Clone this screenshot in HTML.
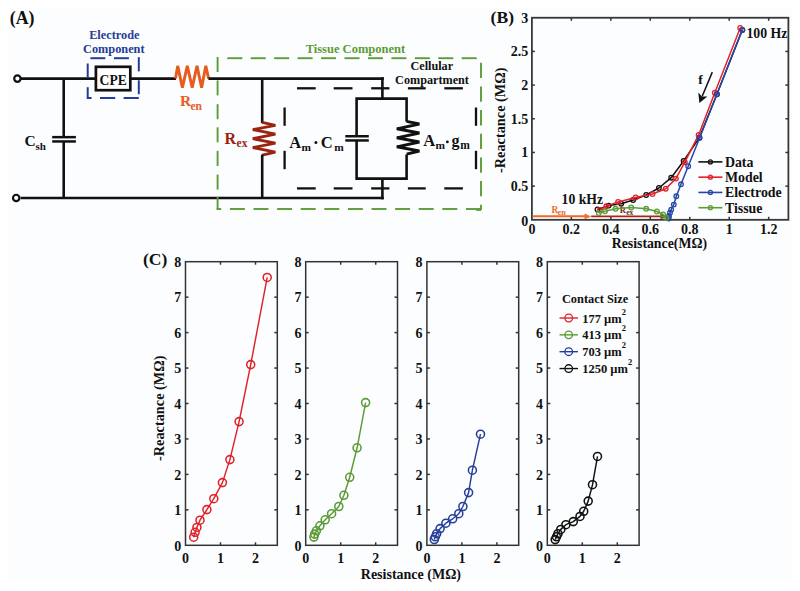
<!DOCTYPE html>
<html><head><meta charset="utf-8"><style>
html,body{margin:0;padding:0;background:#fff;}
svg{display:block;font-family:"Liberation Serif", serif;}
</style></head><body>
<svg width="800" height="591" viewBox="0 0 800 591">
<rect x="8" y="7.5" width="784" height="570.5" fill="#fcfdfe"/>
<rect x="8" y="7.5" width="32" height="24" fill="#fff"/>
<text x="9.80" y="24.00" font-size="17.8" fill="#111" text-anchor="start" font-weight="bold" >(A)</text>
<circle cx="17.40" cy="78.60" r="3.2" stroke="#111" stroke-width="2.2" fill="#fff"/>
<circle cx="16.20" cy="197.95" r="3.2" stroke="#111" stroke-width="2.2" fill="#fff"/>
<line x1="20.60" y1="78.60" x2="95.00" y2="78.60" stroke="#111" stroke-width="2.6" stroke-linecap="butt" />
<line x1="20.60" y1="197.95" x2="383.80" y2="197.95" stroke="#111" stroke-width="2.6" stroke-linecap="butt" />
<line x1="63.70" y1="78.60" x2="63.70" y2="137.20" stroke="#111" stroke-width="2.6" stroke-linecap="butt" />
<line x1="63.70" y1="141.40" x2="63.70" y2="197.95" stroke="#111" stroke-width="2.6" stroke-linecap="butt" />
<line x1="52.20" y1="137.15" x2="75.90" y2="137.15" stroke="#111" stroke-width="2.5" stroke-linecap="butt" />
<line x1="52.20" y1="141.45" x2="75.90" y2="141.45" stroke="#111" stroke-width="2.5" stroke-linecap="butt" />
<text x="24.60" y="145.70" font-size="15.5" fill="#111" text-anchor="start" font-weight="bold" >C</text>
<text x="35.60" y="150.40" font-size="11" fill="#111" text-anchor="start" font-weight="bold" >sh</text>
<rect x="95.9" y="66.8" width="34.4" height="23.4" fill="#fff" stroke="#111" stroke-width="2.7"/>
<text x="113.20" y="85.00" font-size="13.6" fill="#111" text-anchor="middle" font-weight="bold" >CPE</text>
<line x1="130.30" y1="78.60" x2="176.00" y2="78.60" stroke="#111" stroke-width="2.6" stroke-linecap="butt" />
<line x1="90.40" y1="58.20" x2="105.30" y2="58.20" stroke="#273a97" stroke-width="2.0" stroke-linecap="butt" />
<line x1="114.00" y1="58.20" x2="128.90" y2="58.20" stroke="#273a97" stroke-width="2.0" stroke-linecap="butt" />
<line x1="87.40" y1="98.00" x2="91.60" y2="98.00" stroke="#273a97" stroke-width="2.0" stroke-linecap="butt" />
<line x1="100.00" y1="98.00" x2="115.20" y2="98.00" stroke="#273a97" stroke-width="2.0" stroke-linecap="butt" />
<line x1="123.60" y1="98.00" x2="138.80" y2="98.00" stroke="#273a97" stroke-width="2.0" stroke-linecap="butt" />
<line x1="87.70" y1="63.50" x2="87.70" y2="77.90" stroke="#273a97" stroke-width="2.0" stroke-linecap="butt" />
<line x1="87.70" y1="87.20" x2="87.70" y2="99.00" stroke="#273a97" stroke-width="2.0" stroke-linecap="butt" />
<line x1="138.80" y1="57.20" x2="138.80" y2="71.40" stroke="#273a97" stroke-width="2.0" stroke-linecap="butt" />
<line x1="138.80" y1="80.30" x2="138.80" y2="94.20" stroke="#273a97" stroke-width="2.0" stroke-linecap="butt" />
<text x="114.30" y="39.00" font-size="12.3" fill="#273a97" text-anchor="middle" font-weight="bold" >Electrode</text>
<text x="113.80" y="53.00" font-size="12.3" fill="#273a97" text-anchor="middle" font-weight="bold" >Component</text>
<polyline points="175.50,78.60 177.70,65.90 182.40,87.60 187.30,65.90 192.20,87.60 197.00,65.90 201.60,87.60 205.80,65.90 208.60,78.60" fill="none" stroke="#e65c1e" stroke-width="2.9" stroke-linejoin="miter" />
<text x="180.00" y="106.30" font-size="15.5" fill="#e65c1e" text-anchor="start" font-weight="bold" >R</text>
<text x="190.40" y="110.00" font-size="11.6" fill="#e65c1e" text-anchor="start" font-weight="bold" >en</text>
<line x1="208.40" y1="78.60" x2="383.80" y2="78.60" stroke="#111" stroke-width="2.6" stroke-linecap="butt" />
<line x1="227.30" y1="58.20" x2="242.30" y2="58.20" stroke="#5d9b36" stroke-width="1.9" stroke-linecap="butt" />
<line x1="250.74" y1="58.20" x2="265.74" y2="58.20" stroke="#5d9b36" stroke-width="1.9" stroke-linecap="butt" />
<line x1="274.18" y1="58.20" x2="289.18" y2="58.20" stroke="#5d9b36" stroke-width="1.9" stroke-linecap="butt" />
<line x1="297.62" y1="58.20" x2="312.62" y2="58.20" stroke="#5d9b36" stroke-width="1.9" stroke-linecap="butt" />
<line x1="321.06" y1="58.20" x2="336.06" y2="58.20" stroke="#5d9b36" stroke-width="1.9" stroke-linecap="butt" />
<line x1="344.50" y1="58.20" x2="359.50" y2="58.20" stroke="#5d9b36" stroke-width="1.9" stroke-linecap="butt" />
<line x1="367.94" y1="58.20" x2="382.94" y2="58.20" stroke="#5d9b36" stroke-width="1.9" stroke-linecap="butt" />
<line x1="391.38" y1="58.20" x2="406.38" y2="58.20" stroke="#5d9b36" stroke-width="1.9" stroke-linecap="butt" />
<line x1="414.82" y1="58.20" x2="429.82" y2="58.20" stroke="#5d9b36" stroke-width="1.9" stroke-linecap="butt" />
<line x1="438.26" y1="58.20" x2="453.26" y2="58.20" stroke="#5d9b36" stroke-width="1.9" stroke-linecap="butt" />
<line x1="461.70" y1="58.20" x2="476.70" y2="58.20" stroke="#5d9b36" stroke-width="1.9" stroke-linecap="butt" />
<line x1="229.90" y1="209.00" x2="244.90" y2="209.00" stroke="#5d9b36" stroke-width="1.9" stroke-linecap="butt" />
<line x1="253.50" y1="209.00" x2="268.50" y2="209.00" stroke="#5d9b36" stroke-width="1.9" stroke-linecap="butt" />
<line x1="277.10" y1="209.00" x2="292.10" y2="209.00" stroke="#5d9b36" stroke-width="1.9" stroke-linecap="butt" />
<line x1="300.70" y1="209.00" x2="315.70" y2="209.00" stroke="#5d9b36" stroke-width="1.9" stroke-linecap="butt" />
<line x1="324.30" y1="209.00" x2="339.30" y2="209.00" stroke="#5d9b36" stroke-width="1.9" stroke-linecap="butt" />
<line x1="347.90" y1="209.00" x2="362.90" y2="209.00" stroke="#5d9b36" stroke-width="1.9" stroke-linecap="butt" />
<line x1="371.50" y1="209.00" x2="386.50" y2="209.00" stroke="#5d9b36" stroke-width="1.9" stroke-linecap="butt" />
<line x1="395.10" y1="209.00" x2="410.10" y2="209.00" stroke="#5d9b36" stroke-width="1.9" stroke-linecap="butt" />
<line x1="418.70" y1="209.00" x2="433.70" y2="209.00" stroke="#5d9b36" stroke-width="1.9" stroke-linecap="butt" />
<line x1="442.30" y1="209.00" x2="457.30" y2="209.00" stroke="#5d9b36" stroke-width="1.9" stroke-linecap="butt" />
<line x1="465.90" y1="209.00" x2="480.90" y2="209.00" stroke="#5d9b36" stroke-width="1.9" stroke-linecap="butt" />
<line x1="216.65" y1="209.00" x2="221.20" y2="209.00" stroke="#5d9b36" stroke-width="1.9" stroke-linecap="butt" />
<line x1="481.00" y1="209.95" x2="476.20" y2="209.95" stroke="#5d9b36" stroke-width="1.9" stroke-linecap="butt" />
<line x1="217.60" y1="57.00" x2="217.60" y2="72.00" stroke="#5d9b36" stroke-width="1.9" stroke-linecap="butt" />
<line x1="217.60" y1="80.40" x2="217.60" y2="95.40" stroke="#5d9b36" stroke-width="1.9" stroke-linecap="butt" />
<line x1="217.60" y1="104.20" x2="217.60" y2="119.20" stroke="#5d9b36" stroke-width="1.9" stroke-linecap="butt" />
<line x1="217.60" y1="127.30" x2="217.60" y2="142.30" stroke="#5d9b36" stroke-width="1.9" stroke-linecap="butt" />
<line x1="217.60" y1="150.90" x2="217.60" y2="165.90" stroke="#5d9b36" stroke-width="1.9" stroke-linecap="butt" />
<line x1="217.60" y1="174.60" x2="217.60" y2="189.60" stroke="#5d9b36" stroke-width="1.9" stroke-linecap="butt" />
<line x1="217.60" y1="196.90" x2="217.60" y2="209.90" stroke="#5d9b36" stroke-width="1.9" stroke-linecap="butt" />
<line x1="481.00" y1="62.80" x2="481.00" y2="78.10" stroke="#5d9b36" stroke-width="1.9" stroke-linecap="butt" />
<line x1="481.00" y1="86.45" x2="481.00" y2="101.75" stroke="#5d9b36" stroke-width="1.9" stroke-linecap="butt" />
<line x1="481.00" y1="110.10" x2="481.00" y2="125.40" stroke="#5d9b36" stroke-width="1.9" stroke-linecap="butt" />
<line x1="481.00" y1="133.75" x2="481.00" y2="149.05" stroke="#5d9b36" stroke-width="1.9" stroke-linecap="butt" />
<line x1="481.00" y1="157.40" x2="481.00" y2="172.70" stroke="#5d9b36" stroke-width="1.9" stroke-linecap="butt" />
<line x1="481.00" y1="181.05" x2="481.00" y2="196.35" stroke="#5d9b36" stroke-width="1.9" stroke-linecap="butt" />
<line x1="481.00" y1="204.70" x2="481.00" y2="209.90" stroke="#5d9b36" stroke-width="1.9" stroke-linecap="butt" />
<text x="355.40" y="53.40" font-size="12.5" fill="#5d9b36" text-anchor="middle" font-weight="bold" >Tissue Component</text>
<line x1="262.20" y1="78.60" x2="262.20" y2="123.20" stroke="#111" stroke-width="2.6" stroke-linecap="butt" />
<polyline points="262.20,122.40 275.40,125.40 252.80,129.60 275.40,134.10 252.80,138.70 275.40,143.10 252.80,147.60 275.40,152.10 262.20,155.20" fill="none" stroke="#9a2412" stroke-width="2.9" stroke-linejoin="miter" />
<line x1="262.20" y1="154.60" x2="262.20" y2="197.95" stroke="#111" stroke-width="2.6" stroke-linecap="butt" />
<text x="224.40" y="143.50" font-size="16" fill="#9a2412" text-anchor="start" font-weight="bold" >R</text>
<text x="236.60" y="147.20" font-size="11.5" fill="#9a2412" text-anchor="start" font-weight="bold" >ex</text>
<line x1="297.00" y1="88.30" x2="315.70" y2="88.30" stroke="#111" stroke-width="2.3" stroke-linecap="butt" />
<line x1="297.00" y1="188.40" x2="315.70" y2="188.40" stroke="#111" stroke-width="2.3" stroke-linecap="butt" />
<line x1="333.70" y1="88.30" x2="352.50" y2="88.30" stroke="#111" stroke-width="2.3" stroke-linecap="butt" />
<line x1="333.70" y1="188.40" x2="352.50" y2="188.40" stroke="#111" stroke-width="2.3" stroke-linecap="butt" />
<line x1="371.20" y1="88.30" x2="389.40" y2="88.30" stroke="#111" stroke-width="2.3" stroke-linecap="butt" />
<line x1="371.20" y1="188.40" x2="389.40" y2="188.40" stroke="#111" stroke-width="2.3" stroke-linecap="butt" />
<line x1="407.90" y1="88.30" x2="425.70" y2="88.30" stroke="#111" stroke-width="2.3" stroke-linecap="butt" />
<line x1="407.90" y1="188.40" x2="425.70" y2="188.40" stroke="#111" stroke-width="2.3" stroke-linecap="butt" />
<line x1="444.30" y1="88.30" x2="462.90" y2="88.30" stroke="#111" stroke-width="2.3" stroke-linecap="butt" />
<line x1="444.30" y1="188.40" x2="462.90" y2="188.40" stroke="#111" stroke-width="2.3" stroke-linecap="butt" />
<line x1="284.60" y1="107.50" x2="284.60" y2="125.80" stroke="#111" stroke-width="2.3" stroke-linecap="butt" />
<line x1="476.00" y1="107.50" x2="476.00" y2="125.80" stroke="#111" stroke-width="2.3" stroke-linecap="butt" />
<line x1="284.60" y1="150.80" x2="284.60" y2="169.20" stroke="#111" stroke-width="2.3" stroke-linecap="butt" />
<line x1="476.00" y1="150.80" x2="476.00" y2="169.20" stroke="#111" stroke-width="2.3" stroke-linecap="butt" />
<text x="431.80" y="69.60" font-size="12.2" fill="#111" text-anchor="middle" font-weight="bold" >Cellular</text>
<text x="432.00" y="84.00" font-size="12.2" fill="#111" text-anchor="middle" font-weight="bold" >Compartment</text>
<line x1="382.40" y1="77.20" x2="382.40" y2="98.60" stroke="#111" stroke-width="2.6" stroke-linecap="butt" />
<polyline points="356.60,136.30 356.60,98.60 406.60,98.60 406.60,121.80" fill="none" stroke="#111" stroke-width="2.6" stroke-linejoin="miter" />
<polyline points="406.60,154.40 406.60,178.60 356.60,178.60 356.60,140.40" fill="none" stroke="#111" stroke-width="2.6" stroke-linejoin="miter" />
<line x1="382.40" y1="178.60" x2="382.40" y2="199.35" stroke="#111" stroke-width="2.6" stroke-linecap="butt" />
<line x1="345.30" y1="136.25" x2="368.80" y2="136.25" stroke="#111" stroke-width="2.5" stroke-linecap="butt" />
<line x1="345.30" y1="140.45" x2="368.80" y2="140.45" stroke="#111" stroke-width="2.5" stroke-linecap="butt" />
<polyline points="406.60,121.40 419.40,124.00 396.80,128.80 419.40,133.00 396.80,137.80 419.40,142.00 396.80,146.80 419.40,151.00 406.60,154.20" fill="none" stroke="#111" stroke-width="2.9" stroke-linejoin="miter" />
<text x="289.20" y="147.60" font-size="16.6" fill="#111" text-anchor="start" font-weight="bold" >A</text>
<text x="301.40" y="151.00" font-size="11.4" fill="#111" text-anchor="start" font-weight="bold" >m</text>
<circle cx="315.90" cy="142.50" r="0.75" stroke="#111" stroke-width="1.5" fill="#111"/>
<text x="320.80" y="147.60" font-size="16.6" fill="#111" text-anchor="start" font-weight="bold" >C</text>
<text x="334.20" y="151.00" font-size="11.4" fill="#111" text-anchor="start" font-weight="bold" >m</text>
<text x="423.30" y="145.60" font-size="16.6" fill="#111" text-anchor="start" font-weight="bold" >A</text>
<text x="435.60" y="149.00" font-size="11.4" fill="#111" text-anchor="start" font-weight="bold" >m</text>
<circle cx="447.40" cy="141.90" r="0.7" stroke="#111" stroke-width="1.4" fill="#111"/>
<text x="451.40" y="145.60" font-size="16" fill="#111" text-anchor="start" font-weight="bold" >g</text>
<text x="460.20" y="149.00" font-size="11.5" fill="#111" text-anchor="start" font-weight="bold" >m</text>
<text x="490.60" y="22.80" font-size="17.6" fill="#111" text-anchor="start" font-weight="bold" >(B)</text>
<rect x="531.90" y="17.75" width="256.49" height="202.05" fill="none" stroke="#383838" stroke-width="1.8"/>
<text x="531.90" y="234.20" font-size="14" fill="#111" text-anchor="middle" font-weight="bold" >0</text>
<line x1="571.36" y1="219.80" x2="571.36" y2="216.80" stroke="#333" stroke-width="1.5" stroke-linecap="butt" />
<line x1="571.36" y1="17.75" x2="571.36" y2="20.75" stroke="#333" stroke-width="1.5" stroke-linecap="butt" />
<text x="571.36" y="234.20" font-size="14" fill="#111" text-anchor="middle" font-weight="bold" >0.2</text>
<line x1="610.82" y1="219.80" x2="610.82" y2="216.80" stroke="#333" stroke-width="1.5" stroke-linecap="butt" />
<line x1="610.82" y1="17.75" x2="610.82" y2="20.75" stroke="#333" stroke-width="1.5" stroke-linecap="butt" />
<text x="610.82" y="234.20" font-size="14" fill="#111" text-anchor="middle" font-weight="bold" >0.4</text>
<line x1="650.28" y1="219.80" x2="650.28" y2="216.80" stroke="#333" stroke-width="1.5" stroke-linecap="butt" />
<line x1="650.28" y1="17.75" x2="650.28" y2="20.75" stroke="#333" stroke-width="1.5" stroke-linecap="butt" />
<text x="650.28" y="234.20" font-size="14" fill="#111" text-anchor="middle" font-weight="bold" >0.6</text>
<line x1="689.74" y1="219.80" x2="689.74" y2="216.80" stroke="#333" stroke-width="1.5" stroke-linecap="butt" />
<line x1="689.74" y1="17.75" x2="689.74" y2="20.75" stroke="#333" stroke-width="1.5" stroke-linecap="butt" />
<text x="689.74" y="234.20" font-size="14" fill="#111" text-anchor="middle" font-weight="bold" >0.8</text>
<line x1="729.20" y1="219.80" x2="729.20" y2="216.80" stroke="#333" stroke-width="1.5" stroke-linecap="butt" />
<line x1="729.20" y1="17.75" x2="729.20" y2="20.75" stroke="#333" stroke-width="1.5" stroke-linecap="butt" />
<text x="729.20" y="234.20" font-size="14" fill="#111" text-anchor="middle" font-weight="bold" >1</text>
<line x1="768.66" y1="219.80" x2="768.66" y2="216.80" stroke="#333" stroke-width="1.5" stroke-linecap="butt" />
<line x1="768.66" y1="17.75" x2="768.66" y2="20.75" stroke="#333" stroke-width="1.5" stroke-linecap="butt" />
<text x="768.66" y="234.20" font-size="14" fill="#111" text-anchor="middle" font-weight="bold" >1.2</text>
<text x="528.30" y="225.80" font-size="14" fill="#111" text-anchor="end" font-weight="bold" >0</text>
<line x1="531.90" y1="186.12" x2="534.90" y2="186.12" stroke="#333" stroke-width="1.5" stroke-linecap="butt" />
<line x1="788.39" y1="186.12" x2="785.39" y2="186.12" stroke="#333" stroke-width="1.5" stroke-linecap="butt" />
<text x="528.30" y="190.93" font-size="14" fill="#111" text-anchor="end" font-weight="bold" >0.5</text>
<line x1="531.90" y1="152.45" x2="534.90" y2="152.45" stroke="#333" stroke-width="1.5" stroke-linecap="butt" />
<line x1="788.39" y1="152.45" x2="785.39" y2="152.45" stroke="#333" stroke-width="1.5" stroke-linecap="butt" />
<text x="528.30" y="157.25" font-size="14" fill="#111" text-anchor="end" font-weight="bold" >1</text>
<line x1="531.90" y1="118.78" x2="534.90" y2="118.78" stroke="#333" stroke-width="1.5" stroke-linecap="butt" />
<line x1="788.39" y1="118.78" x2="785.39" y2="118.78" stroke="#333" stroke-width="1.5" stroke-linecap="butt" />
<text x="528.30" y="123.58" font-size="14" fill="#111" text-anchor="end" font-weight="bold" >1.5</text>
<line x1="531.90" y1="85.10" x2="534.90" y2="85.10" stroke="#333" stroke-width="1.5" stroke-linecap="butt" />
<line x1="788.39" y1="85.10" x2="785.39" y2="85.10" stroke="#333" stroke-width="1.5" stroke-linecap="butt" />
<text x="528.30" y="89.90" font-size="14" fill="#111" text-anchor="end" font-weight="bold" >2</text>
<line x1="531.90" y1="51.43" x2="534.90" y2="51.43" stroke="#333" stroke-width="1.5" stroke-linecap="butt" />
<line x1="788.39" y1="51.43" x2="785.39" y2="51.43" stroke="#333" stroke-width="1.5" stroke-linecap="butt" />
<text x="528.30" y="56.23" font-size="14" fill="#111" text-anchor="end" font-weight="bold" >2.5</text>
<text x="528.30" y="22.55" font-size="14" fill="#111" text-anchor="end" font-weight="bold" >3</text>
<text x="659.40" y="247.60" font-size="13.8" fill="#111" text-anchor="middle" font-weight="bold" >Resistance(MΩ)</text>
<text x="505.40" y="120.20" font-size="14.3" fill="#111" text-anchor="middle" font-weight="bold" transform="rotate(-90 505.4 120.2)">-Reactance (MΩ)</text>
<line x1="532.50" y1="216.30" x2="586.50" y2="216.30" stroke="#ee6a2a" stroke-width="1.9" stroke-linecap="butt" />
<path d="M584.5,213.6 L591.2,216.4 L584.5,219.2 Z" fill="#ec6f2a"/>
<text x="551.40" y="212.60" font-size="9.4" fill="#ee6a2a" text-anchor="start" font-weight="bold" >R</text>
<text x="557.60" y="214.60" font-size="8.2" fill="#ee6a2a" text-anchor="start" font-weight="bold" >en</text>
<line x1="591.20" y1="216.40" x2="662.50" y2="216.40" stroke="#a82a16" stroke-width="1.7" stroke-linecap="butt" />
<path d="M660.5,213.6 L667.2,216.4 L660.5,219.2 Z" fill="#a3271a"/>
<text x="619.80" y="212.80" font-size="8.6" fill="#7a2418" text-anchor="start" font-weight="bold" >R</text>
<text x="626.20" y="215.40" font-size="7.6" fill="#7a2418" text-anchor="start" font-weight="bold" >ex</text>
<polyline points="597.50,209.40 608.70,205.60 621.20,203.70 633.10,200.00 646.20,195.00 658.90,188.00 671.20,177.70 683.60,161.00 699.40,137.60 716.90,94.30 742.30,29.90" fill="none" stroke="#111" stroke-width="1.5" stroke-linejoin="round" />
<circle cx="597.50" cy="209.40" r="2.3" stroke="#111" stroke-width="1.3" fill="none"/>
<circle cx="608.70" cy="205.60" r="2.3" stroke="#111" stroke-width="1.3" fill="none"/>
<circle cx="621.20" cy="203.70" r="2.3" stroke="#111" stroke-width="1.3" fill="none"/>
<circle cx="633.10" cy="200.00" r="2.3" stroke="#111" stroke-width="1.3" fill="none"/>
<circle cx="646.20" cy="195.00" r="2.3" stroke="#111" stroke-width="1.3" fill="none"/>
<circle cx="658.90" cy="188.00" r="2.3" stroke="#111" stroke-width="1.3" fill="none"/>
<circle cx="671.20" cy="177.70" r="2.3" stroke="#111" stroke-width="1.3" fill="none"/>
<circle cx="683.60" cy="161.00" r="2.3" stroke="#111" stroke-width="1.3" fill="none"/>
<circle cx="699.40" cy="137.60" r="2.3" stroke="#111" stroke-width="1.3" fill="none"/>
<circle cx="716.90" cy="94.30" r="2.3" stroke="#111" stroke-width="1.3" fill="none"/>
<circle cx="742.30" cy="29.90" r="2.3" stroke="#111" stroke-width="1.3" fill="none"/>
<polyline points="600.00,210.00 606.30,206.30 618.10,201.90 635.60,197.50 652.50,194.00 665.70,188.70 675.90,178.60 684.80,162.20 698.60,134.90 714.80,92.70 740.20,27.90" fill="none" stroke="#e3222b" stroke-width="1.5" stroke-linejoin="round" />
<circle cx="600.00" cy="210.00" r="2.3" stroke="#e3222b" stroke-width="1.3" fill="none"/>
<circle cx="606.30" cy="206.30" r="2.3" stroke="#e3222b" stroke-width="1.3" fill="none"/>
<circle cx="618.10" cy="201.90" r="2.3" stroke="#e3222b" stroke-width="1.3" fill="none"/>
<circle cx="635.60" cy="197.50" r="2.3" stroke="#e3222b" stroke-width="1.3" fill="none"/>
<circle cx="652.50" cy="194.00" r="2.3" stroke="#e3222b" stroke-width="1.3" fill="none"/>
<circle cx="665.70" cy="188.70" r="2.3" stroke="#e3222b" stroke-width="1.3" fill="none"/>
<circle cx="675.90" cy="178.60" r="2.3" stroke="#e3222b" stroke-width="1.3" fill="none"/>
<circle cx="684.80" cy="162.20" r="2.3" stroke="#e3222b" stroke-width="1.3" fill="none"/>
<circle cx="698.60" cy="134.90" r="2.3" stroke="#e3222b" stroke-width="1.3" fill="none"/>
<circle cx="714.80" cy="92.70" r="2.3" stroke="#e3222b" stroke-width="1.3" fill="none"/>
<circle cx="740.20" cy="27.90" r="2.3" stroke="#e3222b" stroke-width="1.3" fill="none"/>
<polyline points="668.70,218.50 669.00,216.00 670.00,212.80 671.20,209.60 673.80,204.60 676.30,196.30 681.00,184.30 688.20,166.20 699.60,138.00 716.90,94.30 742.30,29.90" fill="none" stroke="#2747a8" stroke-width="1.5" stroke-linejoin="round" />
<circle cx="668.70" cy="218.50" r="2.3" stroke="#2747a8" stroke-width="1.3" fill="none"/>
<circle cx="669.00" cy="216.00" r="2.3" stroke="#2747a8" stroke-width="1.3" fill="none"/>
<circle cx="670.00" cy="212.80" r="2.3" stroke="#2747a8" stroke-width="1.3" fill="none"/>
<circle cx="671.20" cy="209.60" r="2.3" stroke="#2747a8" stroke-width="1.3" fill="none"/>
<circle cx="673.80" cy="204.60" r="2.3" stroke="#2747a8" stroke-width="1.3" fill="none"/>
<circle cx="676.30" cy="196.30" r="2.3" stroke="#2747a8" stroke-width="1.3" fill="none"/>
<circle cx="681.00" cy="184.30" r="2.3" stroke="#2747a8" stroke-width="1.3" fill="none"/>
<circle cx="688.20" cy="166.20" r="2.3" stroke="#2747a8" stroke-width="1.3" fill="none"/>
<circle cx="699.60" cy="138.00" r="2.3" stroke="#2747a8" stroke-width="1.3" fill="none"/>
<circle cx="716.90" cy="94.30" r="2.3" stroke="#2747a8" stroke-width="1.3" fill="none"/>
<circle cx="742.30" cy="29.90" r="2.3" stroke="#2747a8" stroke-width="1.3" fill="none"/>
<polyline points="598.80,213.10 605.00,211.30 615.60,208.80 631.20,207.50 646.20,208.80 656.90,211.50 663.10,214.40 666.30,218.10" fill="none" stroke="#5a9e33" stroke-width="1.5" stroke-linejoin="round" />
<circle cx="598.80" cy="213.10" r="2.3" stroke="#5a9e33" stroke-width="1.3" fill="none"/>
<circle cx="605.00" cy="211.30" r="2.3" stroke="#5a9e33" stroke-width="1.3" fill="none"/>
<circle cx="615.60" cy="208.80" r="2.3" stroke="#5a9e33" stroke-width="1.3" fill="none"/>
<circle cx="631.20" cy="207.50" r="2.3" stroke="#5a9e33" stroke-width="1.3" fill="none"/>
<circle cx="646.20" cy="208.80" r="2.3" stroke="#5a9e33" stroke-width="1.3" fill="none"/>
<circle cx="656.90" cy="211.50" r="2.3" stroke="#5a9e33" stroke-width="1.3" fill="none"/>
<circle cx="663.10" cy="214.40" r="2.3" stroke="#5a9e33" stroke-width="1.3" fill="none"/>
<circle cx="666.30" cy="218.10" r="2.3" stroke="#5a9e33" stroke-width="1.3" fill="none"/>
<text x="746.40" y="37.50" font-size="13.8" fill="#111" text-anchor="start" font-weight="bold" >100 Hz</text>
<text x="561.60" y="203.50" font-size="13.7" fill="#111" text-anchor="start" font-weight="bold" >10 kHz</text>
<text x="698.30" y="84.00" font-size="13.4" fill="#111" text-anchor="start" font-weight="bold" >f</text>
<line x1="712.30" y1="72.10" x2="702.20" y2="96.20" stroke="#111" stroke-width="1.5" stroke-linecap="butt" />
<path d="M699.4,103.0 L698.3,92.6 L701.9,96.6 L707.4,96.4 Z" fill="#111"/>
<line x1="698.40" y1="161.90" x2="722.40" y2="161.90" stroke="#111" stroke-width="1.6" stroke-linecap="butt" />
<circle cx="710.40" cy="161.90" r="2.0" stroke="#111" stroke-width="1.3" fill="none"/>
<text x="724.90" y="166.80" font-size="13.9" fill="#111" text-anchor="start" font-weight="bold" >Data</text>
<line x1="698.40" y1="177.17" x2="722.40" y2="177.17" stroke="#e3222b" stroke-width="1.6" stroke-linecap="butt" />
<circle cx="710.40" cy="177.17" r="2.0" stroke="#e3222b" stroke-width="1.3" fill="none"/>
<text x="724.90" y="182.07" font-size="13.9" fill="#111" text-anchor="start" font-weight="bold" >Model</text>
<line x1="698.40" y1="192.44" x2="722.40" y2="192.44" stroke="#2747a8" stroke-width="1.6" stroke-linecap="butt" />
<circle cx="710.40" cy="192.44" r="2.0" stroke="#2747a8" stroke-width="1.3" fill="none"/>
<text x="724.90" y="197.34" font-size="13.9" fill="#111" text-anchor="start" font-weight="bold" >Electrode</text>
<line x1="698.40" y1="207.71" x2="722.40" y2="207.71" stroke="#5a9e33" stroke-width="1.6" stroke-linecap="butt" />
<circle cx="710.40" cy="207.71" r="2.0" stroke="#5a9e33" stroke-width="1.3" fill="none"/>
<text x="724.90" y="212.61" font-size="13.9" fill="#111" text-anchor="start" font-weight="bold" >Tissue</text>
<text x="142.90" y="265.20" font-size="17.6" fill="#111" text-anchor="start" font-weight="bold" >(C)</text>
<rect x="185.50" y="261.70" width="91.8" height="283.60" fill="none" stroke="#333" stroke-width="1.5"/>
<text x="181.20" y="550.60" font-size="14" fill="#111" text-anchor="end" font-weight="bold" >0</text>
<line x1="185.50" y1="509.85" x2="188.50" y2="509.85" stroke="#333" stroke-width="1.5" stroke-linecap="butt" />
<line x1="277.30" y1="509.85" x2="274.30" y2="509.85" stroke="#333" stroke-width="1.5" stroke-linecap="butt" />
<text x="181.20" y="515.15" font-size="14" fill="#111" text-anchor="end" font-weight="bold" >1</text>
<line x1="185.50" y1="474.40" x2="188.50" y2="474.40" stroke="#333" stroke-width="1.5" stroke-linecap="butt" />
<line x1="277.30" y1="474.40" x2="274.30" y2="474.40" stroke="#333" stroke-width="1.5" stroke-linecap="butt" />
<text x="181.20" y="479.70" font-size="14" fill="#111" text-anchor="end" font-weight="bold" >2</text>
<line x1="185.50" y1="438.95" x2="188.50" y2="438.95" stroke="#333" stroke-width="1.5" stroke-linecap="butt" />
<line x1="277.30" y1="438.95" x2="274.30" y2="438.95" stroke="#333" stroke-width="1.5" stroke-linecap="butt" />
<text x="181.20" y="444.25" font-size="14" fill="#111" text-anchor="end" font-weight="bold" >3</text>
<line x1="185.50" y1="403.50" x2="188.50" y2="403.50" stroke="#333" stroke-width="1.5" stroke-linecap="butt" />
<line x1="277.30" y1="403.50" x2="274.30" y2="403.50" stroke="#333" stroke-width="1.5" stroke-linecap="butt" />
<text x="181.20" y="408.80" font-size="14" fill="#111" text-anchor="end" font-weight="bold" >4</text>
<line x1="185.50" y1="368.05" x2="188.50" y2="368.05" stroke="#333" stroke-width="1.5" stroke-linecap="butt" />
<line x1="277.30" y1="368.05" x2="274.30" y2="368.05" stroke="#333" stroke-width="1.5" stroke-linecap="butt" />
<text x="181.20" y="373.35" font-size="14" fill="#111" text-anchor="end" font-weight="bold" >5</text>
<line x1="185.50" y1="332.60" x2="188.50" y2="332.60" stroke="#333" stroke-width="1.5" stroke-linecap="butt" />
<line x1="277.30" y1="332.60" x2="274.30" y2="332.60" stroke="#333" stroke-width="1.5" stroke-linecap="butt" />
<text x="181.20" y="337.90" font-size="14" fill="#111" text-anchor="end" font-weight="bold" >6</text>
<line x1="185.50" y1="297.15" x2="188.50" y2="297.15" stroke="#333" stroke-width="1.5" stroke-linecap="butt" />
<line x1="277.30" y1="297.15" x2="274.30" y2="297.15" stroke="#333" stroke-width="1.5" stroke-linecap="butt" />
<text x="181.20" y="302.45" font-size="14" fill="#111" text-anchor="end" font-weight="bold" >7</text>
<text x="181.20" y="267.00" font-size="14" fill="#111" text-anchor="end" font-weight="bold" >8</text>
<text x="185.50" y="563.00" font-size="14" fill="#111" text-anchor="middle" font-weight="bold" >0</text>
<line x1="220.50" y1="545.30" x2="220.50" y2="542.30" stroke="#333" stroke-width="1.5" stroke-linecap="butt" />
<line x1="220.50" y1="261.70" x2="220.50" y2="264.70" stroke="#333" stroke-width="1.5" stroke-linecap="butt" />
<text x="220.50" y="563.00" font-size="14" fill="#111" text-anchor="middle" font-weight="bold" >1</text>
<line x1="255.50" y1="545.30" x2="255.50" y2="542.30" stroke="#333" stroke-width="1.5" stroke-linecap="butt" />
<line x1="255.50" y1="261.70" x2="255.50" y2="264.70" stroke="#333" stroke-width="1.5" stroke-linecap="butt" />
<text x="255.50" y="563.00" font-size="14" fill="#111" text-anchor="middle" font-weight="bold" >2</text>
<rect x="305.70" y="261.70" width="91.8" height="283.60" fill="none" stroke="#333" stroke-width="1.5"/>
<text x="301.40" y="550.60" font-size="14" fill="#111" text-anchor="end" font-weight="bold" >0</text>
<line x1="305.70" y1="509.85" x2="308.70" y2="509.85" stroke="#333" stroke-width="1.5" stroke-linecap="butt" />
<line x1="397.50" y1="509.85" x2="394.50" y2="509.85" stroke="#333" stroke-width="1.5" stroke-linecap="butt" />
<text x="301.40" y="515.15" font-size="14" fill="#111" text-anchor="end" font-weight="bold" >1</text>
<line x1="305.70" y1="474.40" x2="308.70" y2="474.40" stroke="#333" stroke-width="1.5" stroke-linecap="butt" />
<line x1="397.50" y1="474.40" x2="394.50" y2="474.40" stroke="#333" stroke-width="1.5" stroke-linecap="butt" />
<text x="301.40" y="479.70" font-size="14" fill="#111" text-anchor="end" font-weight="bold" >2</text>
<line x1="305.70" y1="438.95" x2="308.70" y2="438.95" stroke="#333" stroke-width="1.5" stroke-linecap="butt" />
<line x1="397.50" y1="438.95" x2="394.50" y2="438.95" stroke="#333" stroke-width="1.5" stroke-linecap="butt" />
<text x="301.40" y="444.25" font-size="14" fill="#111" text-anchor="end" font-weight="bold" >3</text>
<line x1="305.70" y1="403.50" x2="308.70" y2="403.50" stroke="#333" stroke-width="1.5" stroke-linecap="butt" />
<line x1="397.50" y1="403.50" x2="394.50" y2="403.50" stroke="#333" stroke-width="1.5" stroke-linecap="butt" />
<text x="301.40" y="408.80" font-size="14" fill="#111" text-anchor="end" font-weight="bold" >4</text>
<line x1="305.70" y1="368.05" x2="308.70" y2="368.05" stroke="#333" stroke-width="1.5" stroke-linecap="butt" />
<line x1="397.50" y1="368.05" x2="394.50" y2="368.05" stroke="#333" stroke-width="1.5" stroke-linecap="butt" />
<text x="301.40" y="373.35" font-size="14" fill="#111" text-anchor="end" font-weight="bold" >5</text>
<line x1="305.70" y1="332.60" x2="308.70" y2="332.60" stroke="#333" stroke-width="1.5" stroke-linecap="butt" />
<line x1="397.50" y1="332.60" x2="394.50" y2="332.60" stroke="#333" stroke-width="1.5" stroke-linecap="butt" />
<text x="301.40" y="337.90" font-size="14" fill="#111" text-anchor="end" font-weight="bold" >6</text>
<line x1="305.70" y1="297.15" x2="308.70" y2="297.15" stroke="#333" stroke-width="1.5" stroke-linecap="butt" />
<line x1="397.50" y1="297.15" x2="394.50" y2="297.15" stroke="#333" stroke-width="1.5" stroke-linecap="butt" />
<text x="301.40" y="302.45" font-size="14" fill="#111" text-anchor="end" font-weight="bold" >7</text>
<text x="301.40" y="267.00" font-size="14" fill="#111" text-anchor="end" font-weight="bold" >8</text>
<text x="305.70" y="563.00" font-size="14" fill="#111" text-anchor="middle" font-weight="bold" >0</text>
<line x1="340.70" y1="545.30" x2="340.70" y2="542.30" stroke="#333" stroke-width="1.5" stroke-linecap="butt" />
<line x1="340.70" y1="261.70" x2="340.70" y2="264.70" stroke="#333" stroke-width="1.5" stroke-linecap="butt" />
<text x="340.70" y="563.00" font-size="14" fill="#111" text-anchor="middle" font-weight="bold" >1</text>
<line x1="375.70" y1="545.30" x2="375.70" y2="542.30" stroke="#333" stroke-width="1.5" stroke-linecap="butt" />
<line x1="375.70" y1="261.70" x2="375.70" y2="264.70" stroke="#333" stroke-width="1.5" stroke-linecap="butt" />
<text x="375.70" y="563.00" font-size="14" fill="#111" text-anchor="middle" font-weight="bold" >2</text>
<rect x="426.90" y="261.70" width="91.8" height="283.60" fill="none" stroke="#333" stroke-width="1.5"/>
<text x="422.60" y="550.60" font-size="14" fill="#111" text-anchor="end" font-weight="bold" >0</text>
<line x1="426.90" y1="509.85" x2="429.90" y2="509.85" stroke="#333" stroke-width="1.5" stroke-linecap="butt" />
<line x1="518.70" y1="509.85" x2="515.70" y2="509.85" stroke="#333" stroke-width="1.5" stroke-linecap="butt" />
<text x="422.60" y="515.15" font-size="14" fill="#111" text-anchor="end" font-weight="bold" >1</text>
<line x1="426.90" y1="474.40" x2="429.90" y2="474.40" stroke="#333" stroke-width="1.5" stroke-linecap="butt" />
<line x1="518.70" y1="474.40" x2="515.70" y2="474.40" stroke="#333" stroke-width="1.5" stroke-linecap="butt" />
<text x="422.60" y="479.70" font-size="14" fill="#111" text-anchor="end" font-weight="bold" >2</text>
<line x1="426.90" y1="438.95" x2="429.90" y2="438.95" stroke="#333" stroke-width="1.5" stroke-linecap="butt" />
<line x1="518.70" y1="438.95" x2="515.70" y2="438.95" stroke="#333" stroke-width="1.5" stroke-linecap="butt" />
<text x="422.60" y="444.25" font-size="14" fill="#111" text-anchor="end" font-weight="bold" >3</text>
<line x1="426.90" y1="403.50" x2="429.90" y2="403.50" stroke="#333" stroke-width="1.5" stroke-linecap="butt" />
<line x1="518.70" y1="403.50" x2="515.70" y2="403.50" stroke="#333" stroke-width="1.5" stroke-linecap="butt" />
<text x="422.60" y="408.80" font-size="14" fill="#111" text-anchor="end" font-weight="bold" >4</text>
<line x1="426.90" y1="368.05" x2="429.90" y2="368.05" stroke="#333" stroke-width="1.5" stroke-linecap="butt" />
<line x1="518.70" y1="368.05" x2="515.70" y2="368.05" stroke="#333" stroke-width="1.5" stroke-linecap="butt" />
<text x="422.60" y="373.35" font-size="14" fill="#111" text-anchor="end" font-weight="bold" >5</text>
<line x1="426.90" y1="332.60" x2="429.90" y2="332.60" stroke="#333" stroke-width="1.5" stroke-linecap="butt" />
<line x1="518.70" y1="332.60" x2="515.70" y2="332.60" stroke="#333" stroke-width="1.5" stroke-linecap="butt" />
<text x="422.60" y="337.90" font-size="14" fill="#111" text-anchor="end" font-weight="bold" >6</text>
<line x1="426.90" y1="297.15" x2="429.90" y2="297.15" stroke="#333" stroke-width="1.5" stroke-linecap="butt" />
<line x1="518.70" y1="297.15" x2="515.70" y2="297.15" stroke="#333" stroke-width="1.5" stroke-linecap="butt" />
<text x="422.60" y="302.45" font-size="14" fill="#111" text-anchor="end" font-weight="bold" >7</text>
<text x="422.60" y="267.00" font-size="14" fill="#111" text-anchor="end" font-weight="bold" >8</text>
<text x="426.90" y="563.00" font-size="14" fill="#111" text-anchor="middle" font-weight="bold" >0</text>
<line x1="461.90" y1="545.30" x2="461.90" y2="542.30" stroke="#333" stroke-width="1.5" stroke-linecap="butt" />
<line x1="461.90" y1="261.70" x2="461.90" y2="264.70" stroke="#333" stroke-width="1.5" stroke-linecap="butt" />
<text x="461.90" y="563.00" font-size="14" fill="#111" text-anchor="middle" font-weight="bold" >1</text>
<line x1="496.90" y1="545.30" x2="496.90" y2="542.30" stroke="#333" stroke-width="1.5" stroke-linecap="butt" />
<line x1="496.90" y1="261.70" x2="496.90" y2="264.70" stroke="#333" stroke-width="1.5" stroke-linecap="butt" />
<text x="496.90" y="563.00" font-size="14" fill="#111" text-anchor="middle" font-weight="bold" >2</text>
<rect x="547.30" y="261.70" width="91.8" height="283.60" fill="none" stroke="#333" stroke-width="1.5"/>
<text x="543.00" y="550.60" font-size="14" fill="#111" text-anchor="end" font-weight="bold" >0</text>
<line x1="547.30" y1="509.85" x2="550.30" y2="509.85" stroke="#333" stroke-width="1.5" stroke-linecap="butt" />
<line x1="639.10" y1="509.85" x2="636.10" y2="509.85" stroke="#333" stroke-width="1.5" stroke-linecap="butt" />
<text x="543.00" y="515.15" font-size="14" fill="#111" text-anchor="end" font-weight="bold" >1</text>
<line x1="547.30" y1="474.40" x2="550.30" y2="474.40" stroke="#333" stroke-width="1.5" stroke-linecap="butt" />
<line x1="639.10" y1="474.40" x2="636.10" y2="474.40" stroke="#333" stroke-width="1.5" stroke-linecap="butt" />
<text x="543.00" y="479.70" font-size="14" fill="#111" text-anchor="end" font-weight="bold" >2</text>
<line x1="547.30" y1="438.95" x2="550.30" y2="438.95" stroke="#333" stroke-width="1.5" stroke-linecap="butt" />
<line x1="639.10" y1="438.95" x2="636.10" y2="438.95" stroke="#333" stroke-width="1.5" stroke-linecap="butt" />
<text x="543.00" y="444.25" font-size="14" fill="#111" text-anchor="end" font-weight="bold" >3</text>
<line x1="547.30" y1="403.50" x2="550.30" y2="403.50" stroke="#333" stroke-width="1.5" stroke-linecap="butt" />
<line x1="639.10" y1="403.50" x2="636.10" y2="403.50" stroke="#333" stroke-width="1.5" stroke-linecap="butt" />
<text x="543.00" y="408.80" font-size="14" fill="#111" text-anchor="end" font-weight="bold" >4</text>
<line x1="547.30" y1="368.05" x2="550.30" y2="368.05" stroke="#333" stroke-width="1.5" stroke-linecap="butt" />
<line x1="639.10" y1="368.05" x2="636.10" y2="368.05" stroke="#333" stroke-width="1.5" stroke-linecap="butt" />
<text x="543.00" y="373.35" font-size="14" fill="#111" text-anchor="end" font-weight="bold" >5</text>
<line x1="547.30" y1="332.60" x2="550.30" y2="332.60" stroke="#333" stroke-width="1.5" stroke-linecap="butt" />
<line x1="639.10" y1="332.60" x2="636.10" y2="332.60" stroke="#333" stroke-width="1.5" stroke-linecap="butt" />
<text x="543.00" y="337.90" font-size="14" fill="#111" text-anchor="end" font-weight="bold" >6</text>
<line x1="547.30" y1="297.15" x2="550.30" y2="297.15" stroke="#333" stroke-width="1.5" stroke-linecap="butt" />
<line x1="639.10" y1="297.15" x2="636.10" y2="297.15" stroke="#333" stroke-width="1.5" stroke-linecap="butt" />
<text x="543.00" y="302.45" font-size="14" fill="#111" text-anchor="end" font-weight="bold" >7</text>
<text x="543.00" y="267.00" font-size="14" fill="#111" text-anchor="end" font-weight="bold" >8</text>
<text x="547.30" y="563.00" font-size="14" fill="#111" text-anchor="middle" font-weight="bold" >0</text>
<line x1="582.30" y1="545.30" x2="582.30" y2="542.30" stroke="#333" stroke-width="1.5" stroke-linecap="butt" />
<line x1="582.30" y1="261.70" x2="582.30" y2="264.70" stroke="#333" stroke-width="1.5" stroke-linecap="butt" />
<text x="582.30" y="563.00" font-size="14" fill="#111" text-anchor="middle" font-weight="bold" >1</text>
<line x1="617.30" y1="545.30" x2="617.30" y2="542.30" stroke="#333" stroke-width="1.5" stroke-linecap="butt" />
<line x1="617.30" y1="261.70" x2="617.30" y2="264.70" stroke="#333" stroke-width="1.5" stroke-linecap="butt" />
<text x="617.30" y="563.00" font-size="14" fill="#111" text-anchor="middle" font-weight="bold" >2</text>
<text x="163.80" y="408.20" font-size="14.3" fill="#111" text-anchor="middle" font-weight="bold" transform="rotate(-90 163.8 408.2)">-Reactance (MΩ)</text>
<text x="410.90" y="578.60" font-size="14" fill="#111" text-anchor="middle" font-weight="bold" >Resistance (MΩ)</text>
<polyline points="267.20,277.40 250.70,364.60 239.10,421.60 229.90,459.60 222.40,482.60 213.80,498.70 206.90,509.60 200.00,520.20 196.90,527.40 195.10,532.30 193.70,537.20" fill="none" stroke="#de2228" stroke-width="1.45" stroke-linejoin="round" />
<circle cx="267.20" cy="277.40" r="4.0" stroke="#de2228" stroke-width="1.55" fill="none"/>
<circle cx="250.70" cy="364.60" r="4.0" stroke="#de2228" stroke-width="1.55" fill="none"/>
<circle cx="239.10" cy="421.60" r="4.0" stroke="#de2228" stroke-width="1.55" fill="none"/>
<circle cx="229.90" cy="459.60" r="4.0" stroke="#de2228" stroke-width="1.55" fill="none"/>
<circle cx="222.40" cy="482.60" r="4.0" stroke="#de2228" stroke-width="1.55" fill="none"/>
<circle cx="213.80" cy="498.70" r="4.0" stroke="#de2228" stroke-width="1.55" fill="none"/>
<circle cx="206.90" cy="509.60" r="4.0" stroke="#de2228" stroke-width="1.55" fill="none"/>
<circle cx="200.00" cy="520.20" r="4.0" stroke="#de2228" stroke-width="1.55" fill="none"/>
<circle cx="196.90" cy="527.40" r="4.0" stroke="#de2228" stroke-width="1.55" fill="none"/>
<circle cx="195.10" cy="532.30" r="4.0" stroke="#de2228" stroke-width="1.55" fill="none"/>
<circle cx="193.70" cy="537.20" r="4.0" stroke="#de2228" stroke-width="1.55" fill="none"/>
<polyline points="365.60,402.60 357.10,447.80 349.70,477.30 343.90,495.30 338.80,506.50 331.60,513.70 325.20,519.80 319.90,525.80 316.40,530.80 314.60,534.10 313.90,537.10" fill="none" stroke="#5b9a34" stroke-width="1.45" stroke-linejoin="round" />
<circle cx="365.60" cy="402.60" r="4.0" stroke="#5b9a34" stroke-width="1.55" fill="none"/>
<circle cx="357.10" cy="447.80" r="4.0" stroke="#5b9a34" stroke-width="1.55" fill="none"/>
<circle cx="349.70" cy="477.30" r="4.0" stroke="#5b9a34" stroke-width="1.55" fill="none"/>
<circle cx="343.90" cy="495.30" r="4.0" stroke="#5b9a34" stroke-width="1.55" fill="none"/>
<circle cx="338.80" cy="506.50" r="4.0" stroke="#5b9a34" stroke-width="1.55" fill="none"/>
<circle cx="331.60" cy="513.70" r="4.0" stroke="#5b9a34" stroke-width="1.55" fill="none"/>
<circle cx="325.20" cy="519.80" r="4.0" stroke="#5b9a34" stroke-width="1.55" fill="none"/>
<circle cx="319.90" cy="525.80" r="4.0" stroke="#5b9a34" stroke-width="1.55" fill="none"/>
<circle cx="316.40" cy="530.80" r="4.0" stroke="#5b9a34" stroke-width="1.55" fill="none"/>
<circle cx="314.60" cy="534.10" r="4.0" stroke="#5b9a34" stroke-width="1.55" fill="none"/>
<circle cx="313.90" cy="537.10" r="4.0" stroke="#5b9a34" stroke-width="1.55" fill="none"/>
<polyline points="480.50,434.20 472.40,470.20 468.60,492.60 462.90,506.50 458.80,513.70 452.70,518.80 445.90,523.20 440.10,528.60 436.70,533.70 435.30,536.80 434.30,539.50" fill="none" stroke="#253f98" stroke-width="1.45" stroke-linejoin="round" />
<circle cx="480.50" cy="434.20" r="4.0" stroke="#253f98" stroke-width="1.55" fill="none"/>
<circle cx="472.40" cy="470.20" r="4.0" stroke="#253f98" stroke-width="1.55" fill="none"/>
<circle cx="468.60" cy="492.60" r="4.0" stroke="#253f98" stroke-width="1.55" fill="none"/>
<circle cx="462.90" cy="506.50" r="4.0" stroke="#253f98" stroke-width="1.55" fill="none"/>
<circle cx="458.80" cy="513.70" r="4.0" stroke="#253f98" stroke-width="1.55" fill="none"/>
<circle cx="452.70" cy="518.80" r="4.0" stroke="#253f98" stroke-width="1.55" fill="none"/>
<circle cx="445.90" cy="523.20" r="4.0" stroke="#253f98" stroke-width="1.55" fill="none"/>
<circle cx="440.10" cy="528.60" r="4.0" stroke="#253f98" stroke-width="1.55" fill="none"/>
<circle cx="436.70" cy="533.70" r="4.0" stroke="#253f98" stroke-width="1.55" fill="none"/>
<circle cx="435.30" cy="536.80" r="4.0" stroke="#253f98" stroke-width="1.55" fill="none"/>
<circle cx="434.30" cy="539.50" r="4.0" stroke="#253f98" stroke-width="1.55" fill="none"/>
<polyline points="597.50,456.40 592.50,484.70 588.20,501.10 583.70,511.30 580.00,516.40 573.30,521.60 565.90,524.70 560.80,529.40 558.00,533.70 556.50,536.80 555.20,539.60" fill="none" stroke="#111" stroke-width="1.45" stroke-linejoin="round" />
<circle cx="597.50" cy="456.40" r="4.0" stroke="#111" stroke-width="1.55" fill="none"/>
<circle cx="592.50" cy="484.70" r="4.0" stroke="#111" stroke-width="1.55" fill="none"/>
<circle cx="588.20" cy="501.10" r="4.0" stroke="#111" stroke-width="1.55" fill="none"/>
<circle cx="583.70" cy="511.30" r="4.0" stroke="#111" stroke-width="1.55" fill="none"/>
<circle cx="580.00" cy="516.40" r="4.0" stroke="#111" stroke-width="1.55" fill="none"/>
<circle cx="573.30" cy="521.60" r="4.0" stroke="#111" stroke-width="1.55" fill="none"/>
<circle cx="565.90" cy="524.70" r="4.0" stroke="#111" stroke-width="1.55" fill="none"/>
<circle cx="560.80" cy="529.40" r="4.0" stroke="#111" stroke-width="1.55" fill="none"/>
<circle cx="558.00" cy="533.70" r="4.0" stroke="#111" stroke-width="1.55" fill="none"/>
<circle cx="556.50" cy="536.80" r="4.0" stroke="#111" stroke-width="1.55" fill="none"/>
<circle cx="555.20" cy="539.60" r="4.0" stroke="#111" stroke-width="1.55" fill="none"/>
<text x="595.10" y="303.30" font-size="12.4" fill="#111" text-anchor="middle" font-weight="bold" >Contact Size</text>
<line x1="559.50" y1="318.00" x2="578.00" y2="318.00" stroke="#de2228" stroke-width="1.4" stroke-linecap="butt" />
<circle cx="568.70" cy="318.00" r="3.8" stroke="#de2228" stroke-width="1.3" fill="none"/>
<text x="582.2" y="322.60" font-size="12.5" font-weight="bold" fill="#111">177 µm<tspan font-size="8.5" dy="-8">2</tspan></text>
<line x1="559.50" y1="334.85" x2="578.00" y2="334.85" stroke="#5b9a34" stroke-width="1.4" stroke-linecap="butt" />
<circle cx="568.70" cy="334.85" r="3.8" stroke="#5b9a34" stroke-width="1.3" fill="none"/>
<text x="582.2" y="339.45" font-size="12.5" font-weight="bold" fill="#111">413 µm<tspan font-size="8.5" dy="-8">2</tspan></text>
<line x1="559.50" y1="351.70" x2="578.00" y2="351.70" stroke="#253f98" stroke-width="1.4" stroke-linecap="butt" />
<circle cx="568.70" cy="351.70" r="3.8" stroke="#253f98" stroke-width="1.3" fill="none"/>
<text x="582.2" y="356.30" font-size="12.5" font-weight="bold" fill="#111">703 µm<tspan font-size="8.5" dy="-8">2</tspan></text>
<line x1="559.50" y1="368.55" x2="578.00" y2="368.55" stroke="#111" stroke-width="1.4" stroke-linecap="butt" />
<circle cx="568.70" cy="368.55" r="3.8" stroke="#111" stroke-width="1.3" fill="none"/>
<text x="582.2" y="373.15" font-size="12.5" font-weight="bold" fill="#111">1250 µm<tspan font-size="8.5" dy="-8">2</tspan></text>
</svg>
</body></html>
